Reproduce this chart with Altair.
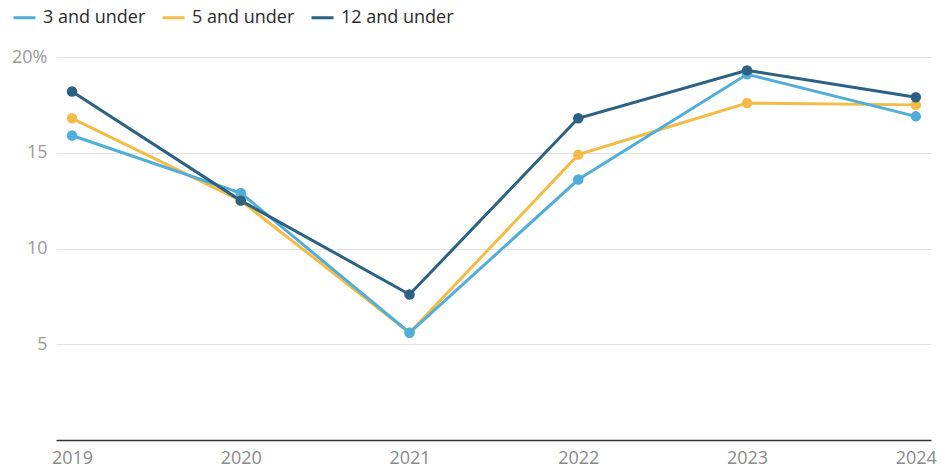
import altair as alt
import pandas as pd

years = [2019, 2020, 2021, 2022, 2023, 2024]
series_names = ["3 and under", "5 and under", "12 and under"]
under_3 = [15.9, 12.9, 5.6, 13.6, 19.1, 16.9]
under_5 = [16.8, 12.5, 5.6, 14.9, 17.6, 17.5]
under_12 = [18.2, 12.5, 7.6, 16.8, 19.3, 17.9]
colors = ["#50aed8", "#f3bb47", "#2b6183"]

# Drawing order (bottom to top): 5 and under, 3 and under, 12 and under
draw_order = [("5 and under", under_5), ("3 and under", under_3), ("12 and under", under_12)]

rows = []
for name, vals in draw_order:
    for yr, v in zip(years, vals):
        rows.append({"year": yr, "group": name, "value": v})
df = pd.DataFrame(rows)

FONT = "Open Sans"

x_enc = alt.X(
    "year:Q",
    scale=alt.Scale(domain=[2018.905, 2024.09], nice=False, zero=False),
    axis=alt.Axis(
        values=years,
        format="d",
        title=None,
        grid=False,
        ticks=False,
        domain=True,
        domainColor="#333333",
        domainWidth=1.5,
        labelColor="#8a8a8a",
        labelFontSize=18,
        labelFont=FONT,
        labelPadding=9,
        labelFlush=False,
    ),
)
y_enc = alt.Y(
    "value:Q",
    scale=alt.Scale(domain=[0, 20], nice=False),
    axis=alt.Axis(
        values=[5, 10, 15, 20],
        title=None,
        domain=False,
        ticks=False,
        grid=True,
        gridColor="#e2e2e2",
        gridWidth=1,
        labelColor="#9a9a9a",
        labelFontSize=18,
        labelFont=FONT,
        labelPadding=9,
        labelExpr="datum.value == 20 ? '20%' : datum.label",
    ),
)
color_enc = alt.Color(
    "group:N",
    scale=alt.Scale(domain=series_names, range=colors),
    sort=series_names,
    legend=alt.Legend(
        title=None,
        orient="none",
        legendX=-44,
        legendY=-52,
        direction="horizontal",
        symbolType="stroke",
        symbolSize=484,
        symbolStrokeWidth=3,
        labelFontSize=18,
        labelFont=FONT,
        labelColor="#2a2a2a",
        labelOffset=6,
        columnPadding=10,
    ),
)

base = alt.Chart(df).encode(x=x_enc, y=y_enc, color=color_enc)
lines = base.mark_line(strokeWidth=3).encode(order=alt.Order("year:Q"))
points = base.mark_circle(size=110, opacity=1)

chart = (
    alt.layer(lines, points)
    .properties(
        width=875,
        height=383,
        padding={"left": 56, "top": 57, "right": 20, "bottom": 30},
        autosize=alt.AutoSizeParams(type="none"),
    )
    .configure(font=FONT)
    .configure_view(strokeWidth=0, stroke="transparent")
)

chart.save("out.html", embed_options={"renderer": "svg", "actions": False})
